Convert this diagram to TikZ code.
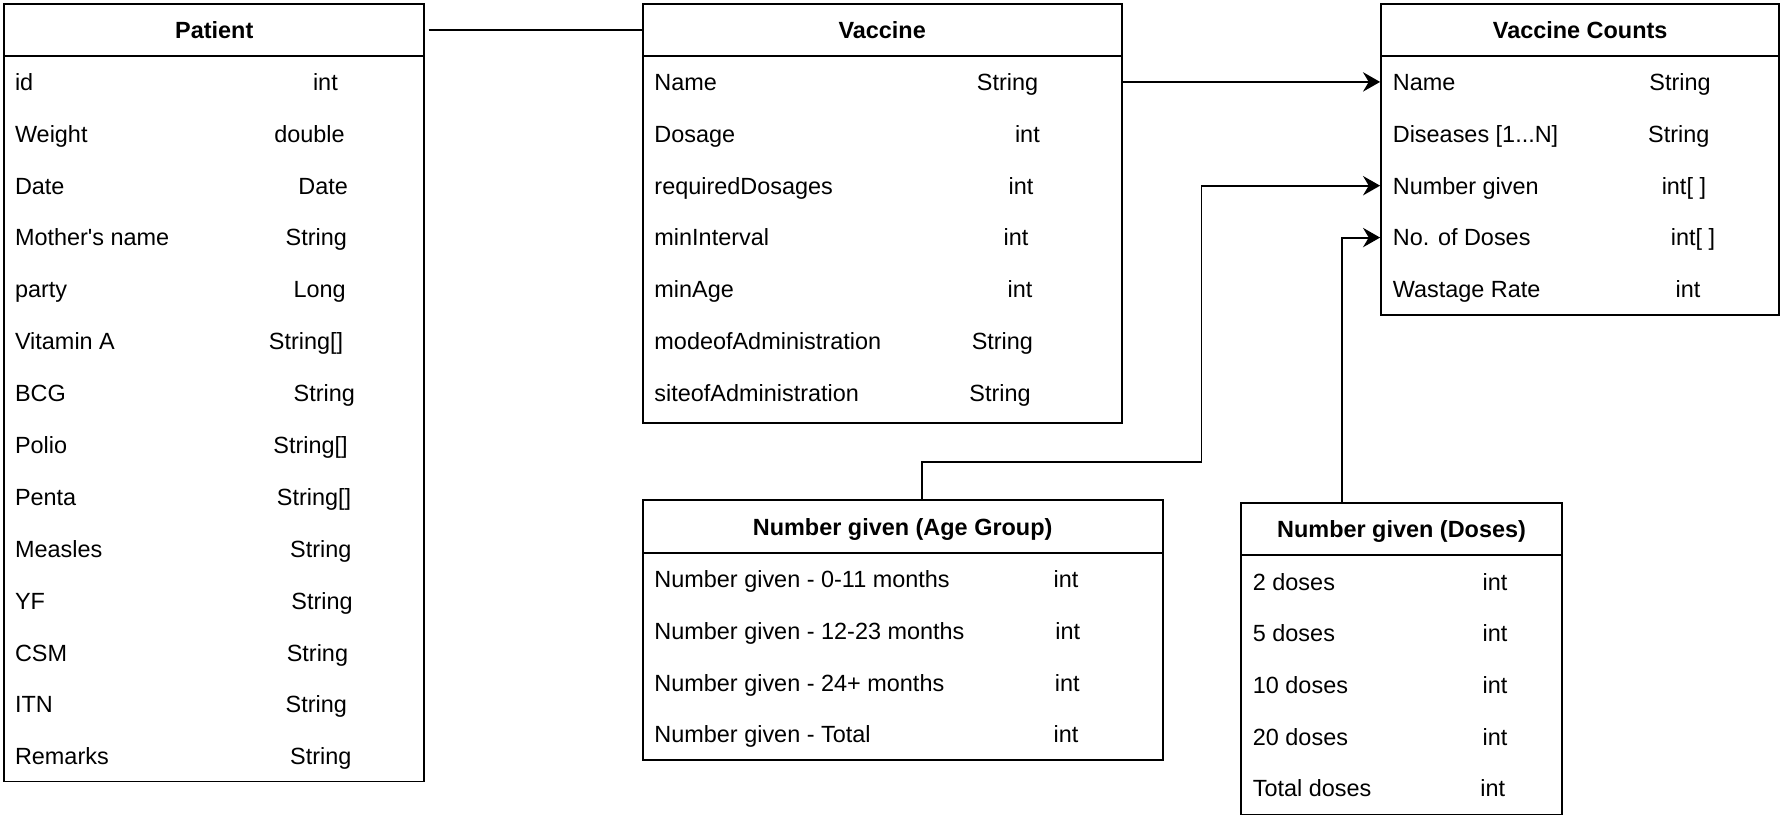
\documentclass[tikz,border=0pt]{standalone}
\usepackage{fontspec}
\setmainfont{Liberation Sans}
\usetikzlibrary{arrows.meta}
\newcommand{\threedots}{...}
\newcommand{\straightq}{\XeTeXglyph\XeTeXcharglyph"27\relax}
\tikzset{
  tbl/.style={draw, line width=1.7pt, inner sep=0pt, anchor=north west},
  hdr/.style={tbl, font=\fontsize{20.6}{24}\selectfont\bfseries, text height=14.8pt, text depth=0pt},
  fld/.style={anchor=west, inner sep=0pt, text height=14.8pt, text depth=0pt},
  typ/.style={anchor=center, inner sep=0pt, text height=14.8pt, text depth=0pt},
  conn/.style={line width=1.7pt},
  arr/.style={conn, -{Stealth[length=15pt,width=17pt,inset=5pt]}}
}
\begin{document}
\begin{tikzpicture}[x=1pt,y=-1pt,font=\fontsize{20.6}{24}\selectfont]
\useasboundingbox (0,0) rectangle (1568,726);

% Patient
\node[hdr, minimum width=369pt, minimum height=45pt] (ph) at (3,3) {Patient};
\node[tbl, minimum width=369pt, minimum height=638pt] (pb) at (3,48) {};
\foreach \n/\t/\tx [count=\i] in {id/int/286, Weight/double/272, Date/Date/284,
  Mother\straightq s name/String/278, party/Long/281, Vitamin A/String[]/269, BCG/String/285,
  Polio/String[]/273, Penta/String[]/276, Measles/String/282, YF/String/283,
  CSM/String/279, ITN/String/278, Remarks/String/282}{
  \node[fld] (pf\i) at (13,{72+45.6*(\i-1)}) {\n};
  \node[typ] (pt\i) at (\tx,{72+45.6*(\i-1)}) {\t};
}

% Vaccine
\node[hdr, minimum width=421pt, minimum height=45pt] (vh) at (564,3) {Vaccine};
\node[tbl, minimum width=421pt, minimum height=323pt] (vb) at (564,48) {};
\foreach \n/\t/\tx [count=\i] in {Name/String/885.6, Dosage/int/903, requiredDosages/int/897.4,
  minInterval/int/893, minAge/int/896.5, modeofAdministration/String/881,
  siteofAdministration/String/879}{
  \node[fld] (vf\i) at (575,{72+45.6*(\i-1)}) {\n};
  \node[typ] (vt\i) at (\tx,{72+45.6*(\i-1)}) {\t};
}

% Vaccine Counts
\node[hdr, minimum width=350pt, minimum height=45pt] (ch) at (1213,3) {Vaccine Counts};
\node[tbl, minimum width=350pt, minimum height=228pt] (cb) at (1213,48) {};
\foreach \n/\t/\tx [count=\i] in {Name/String/1476.6, Diseases [1\threedots N]/String/1475.5,
  Number given/int[ ]/1480, No. of Doses/int[ ]/1488, Wastage Rate/int/1483.7}{
  \node[fld] (cf\i) at (1224,{72+45.6*(\i-1)}) {\n};
  \node[typ] (ct\i) at (\tx,{72+45.6*(\i-1)}) {\t};
}

% Number given (Age Group)
\node[hdr, minimum width=457pt, minimum height=46pt] (agh) at (564,439) {Number given (Age Group)};
\node[tbl, minimum width=457pt, minimum height=182pt] (agb) at (564,485) {};
\foreach \n/\t/\tx [count=\i] in {Number given - 0-11 months/int/937,
  Number given - 12-23 months/int/938.5, Number given - 24+ months/int/938,
  Number given - Total/int/937}{
  \node[fld] (af\i) at (575,{509+45.5*(\i-1)}) {\n};
  \node[typ] (at\i) at (\tx,{509+45.5*(\i-1)}) {\t};
}

% Number given (Doses)
\node[hdr, minimum width=282pt, minimum height=46pt] (dh) at (1090,441) {Number given (Doses)};
\node[tbl, minimum width=282pt, minimum height=228pt] (db) at (1090,487) {};
\foreach \n/\t/\tx [count=\i] in {2 doses/int/1314, 5 doses/int/1314, 10 doses/int/1314,
  20 doses/int/1314, Total doses/int/1312}{
  \node[fld] (df\i) at (1101,{511.2+45.4*(\i-1)}) {\n};
  \node[typ] (dt\i) at (\tx,{511.2+45.4*(\i-1)}) {\t};
}

% connectors
\draw[conn] ([xshift=3pt]ph.east) -- (vh.west);
\draw[arr] (vb.east |- vf1) -- (cb.west |- cf1);
\coordinate (agbend) at (1056,406);
\draw[arr] ([xshift=17pt]agh.north) |- (agbend) |- (cb.west |- cf3);
\draw[arr] ([xshift=-52.5pt]dh.north) |- (cb.west |- cf4);
\end{tikzpicture}
\end{document}
